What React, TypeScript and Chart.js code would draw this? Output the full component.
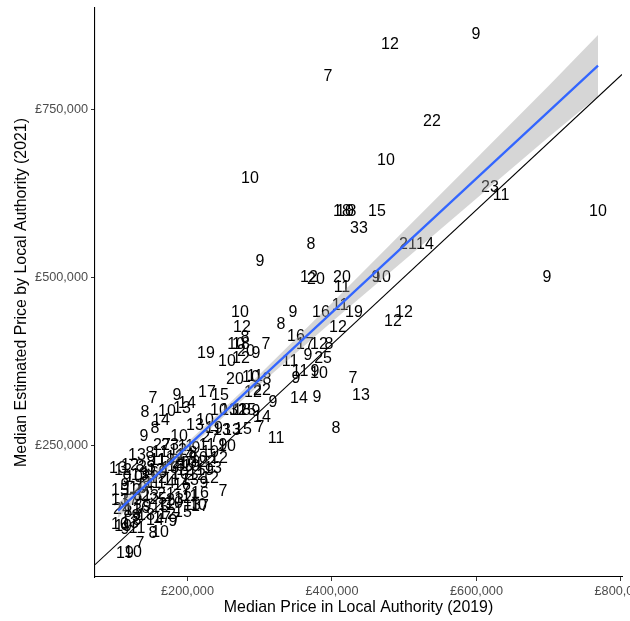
import React, { useEffect, useRef } from 'react';
import { Chart, registerables } from 'chart.js';

Chart.register(...registerables);

// Label shown at each local authority (text drawn at the point)
const labels: string[] = [
  '12','9','7','22','10','10','23','11','10','18','10','8','15','33','8','21','14','9','9','12',
  '20','20','9','10','11','10','9','16','11','19','12','12','12','8','12','16','7','17','12','8',
  '9','25','11','11','9','10','9','7','13','14','9','8','11','12','7','8','10','18','19','10',
  '12','20','9','20','10','11','8','12','22','9','9','7','17','15','8','10','13','14','10','13',
  '12','18','15','9','14','14','8','13','10','9','10','13','7','15','13','27','23','27','11','8',
  '9','10','19','13','13','12','8','23','8','11','20','10','9','10','13','8','14','11','10','12',
  '9','15','7','16','23','25','21','23','10','17','24','8','13','16','9','17','9','7','14','10',
  '19','13','8','8','10','7','19','10','9','11','9','12','10','14','11','12','9','13','18','12',
  '10','9','16','12','11','9','17','15','12','10','12','11','16','13','18','12','11','8','14','10',
  '22','10','9','11','12','19','13','12','13','15','12','18','9','13','12',
];

// Median price in local authority (2019), £
const price2019: number[] = [
  480300,599300,394500,538400,474700,286500,618700,633900,768200,413800,418000,427700,462300,437400,371000,505200,528700,300400,697600,368200,
  377900,413800,460900,469200,413800,272700,346000,384800,411100,430500,499700,484400,408300,329400,275400,350200,308700,362600,382000,395900,
  366800,387600,341900,355700,376500,382000,350200,429100,440100,354300,379200,405500,322500,243600,249200,279600,267200,274100,225600,254700,
  274100,281000,294800,265800,287900,293400,310000,290700,303100,318400,185500,152300,227000,245000,141200,171600,192400,199300,243600,257500,
  269900,275400,282400,294800,163300,303100,155000,210400,224200,139800,188300,247800,300400,276800,261600,164700,175800,231200,227000,207600,
  249200,254700,236700,130100,103800,120400,134300,144000,149500,159200,191000,200700,116300,126000,134300,142600,170300,177200,189600,213200,
  222900,106600,197900,217300,148100,159200,170300,182700,214600,217300,109400,117700,124600,135700,144000,164700,180000,184100,155000,106600,
  110800,120400,130100,152300,162000,134300,113500,124600,113500,130100,113500,123200,131500,141200,150900,159200,166100,175800,184100,196600,
  204900,211800,148100,156400,138400,131500,119100,162000,171600,181300,193800,203500,192400,203500,170300,182700,162000,148100,196600,215900,
  227000,231200,211800,197900,186900,224200,235300,231200,206200,193800,171600,142600,128700,106600,110800,
];

// Median estimated price by local authority (2021), £
const estimate2021: number[] = [
  846700,861600,799100,732100,674100,647300,633900,622000,598200,598200,598200,598200,598200,572900,549100,549100,549100,523800,500000,500000,
  497000,500000,500000,500000,485100,447900,447900,447900,458300,447900,447900,434500,425600,430100,425600,412200,400300,400300,400300,400300,
  383900,379500,375000,360100,360100,357200,349700,349700,324400,320000,321400,275300,260400,230700,181600,410700,400300,400300,386900,375000,
  379500,389900,386900,348200,351200,352700,348200,328900,331900,314000,324400,320000,328900,324400,299100,300600,305100,312500,302100,302100,
  302100,302100,302100,300600,287200,291700,275300,279800,287200,263400,263400,272300,276800,273800,272300,250000,250000,261900,250000,238100,
  250000,248500,275300,235100,215800,220300,218800,217300,224700,227700,223200,223200,200900,202400,205400,202400,193500,198000,206900,205400,
  193500,183000,183000,178600,174100,169700,177100,168200,160700,159200,154800,150300,153300,156300,159200,141400,136900,139900,138400,132500,
  129500,134000,138400,119100,120600,104200,89300,90800,125000,126500,190500,183000,186000,190500,193500,200900,209800,215800,218800,212800,
  218800,224700,208400,212800,175600,168200,168200,157800,160700,163700,171200,174100,190500,198000,227700,232200,239600,238100,235100,230700,
  224700,239600,245600,248500,242600,212800,215800,200900,160700,150300,147300,145900,144400,168200,212800,
];

// Fitted linear trend and its confidence band
const fitX: number[] = [104000, 150000, 200000, 250000, 300000, 400000, 500000, 600000, 700000, 768200];
const fitY: number[] = [152300, 198200, 248000, 297900, 347700, 447400, 547100, 646800, 746500, 814500];
const bandLower: number[] = [141300, 190700, 242000, 291900, 340200, 433400, 525100, 616800, 708500, 769000];
const bandUpper: number[] = [163300, 205700, 254000, 303900, 355200, 461400, 569100, 676800, 784500, 860000];

const xTicks: number[] = [200000, 400000, 600000, 800000];
const yTicks: number[] = [250000, 500000, 750000];

const X_MIN = 72000;
const X_MAX = 801400;
const Y_MIN = 53600;
const Y_MAX = 900300;

const FONT = '"Liberation Sans", Arial, Helvetica, sans-serif';

const fmtPounds = (v: number) =>
  '£' + Math.round(v).toString().replace(/\B(?=(\d{3})+(?!\d))/g, ',');

const textLabelPlugin = {
  id: 'textLabels',
  beforeDatasetsDraw(chart: any) {
    const { ctx, chartArea, scales } = chart;
    const xs = scales.x;
    const ys = scales.y;
    ctx.save();
    ctx.beginPath();
    ctx.rect(chartArea.left, chartArea.top, chartArea.right - chartArea.left, chartArea.bottom - chartArea.top);
    ctx.clip();
    ctx.font = `16px ${FONT}`;
    ctx.fillStyle = '#000000';
    ctx.textAlign = 'center';
    ctx.textBaseline = 'middle';
    labels.forEach((t, i) => {
      ctx.fillText(t, xs.getPixelForValue(price2019[i]), ys.getPixelForValue(estimate2021[i]) + 0.5);
    });
    ctx.restore();
  },
};

export default function App() {
  const canvasRef = useRef<HTMLCanvasElement | null>(null);

  useEffect(() => {
    const canvas = canvasRef.current;
    if (!canvas) return;
    const chart = new Chart(canvas, {
      type: 'scatter',
      data: {
        datasets: [
          {
            label: 'band lower',
            data: fitX.map((x, i) => ({ x, y: bandLower[i] })),
            showLine: true,
            borderWidth: 0,
            borderColor: 'rgba(0,0,0,0)',
            pointRadius: 0,
            fill: false,
            order: 3,
          },
          {
            label: 'band upper',
            data: fitX.map((x, i) => ({ x, y: bandUpper[i] })),
            showLine: true,
            borderWidth: 0,
            borderColor: 'rgba(0,0,0,0)',
            backgroundColor: 'rgba(153,153,153,0.4)',
            pointRadius: 0,
            fill: 0,
            order: 2,
          },
          {
            label: 'fit',
            data: fitX.map((x, i) => ({ x, y: fitY[i] })),
            showLine: true,
            borderColor: '#3366FF',
            borderWidth: 2.3,
            pointRadius: 0,
            fill: false,
            order: 1,
          },
          {
            label: 'y = x',
            data: [
              { x: X_MIN, y: X_MIN },
              { x: X_MAX, y: X_MAX },
            ],
            showLine: true,
            borderColor: '#000000',
            borderWidth: 1.1,
            pointRadius: 0,
            fill: false,
            order: 0,
          },
          {
            label: 'authorities',
            data: price2019.map((x, i) => ({ x, y: estimate2021[i] })),
            pointRadius: 0,
            pointHoverRadius: 0,
            showLine: false,
            order: 4,
          },
        ],
      },
      options: {
        animation: false,
        responsive: false,
        devicePixelRatio: 1,
        events: [],
        layout: { padding: { top: 8, right: 8, left: 0, bottom: 0 } },
        plugins: {
          legend: { display: false },
          tooltip: { enabled: false },
          title: { display: false },
        },
        scales: {
          x: {
            type: 'linear',
            min: X_MIN,
            max: X_MAX,
            afterBuildTicks: (scale: any) => {
              scale.ticks = xTicks.map((v) => ({ value: v }));
            },
            afterFit: (scale: any) => {
              scale.height = 44;
              scale.paddingLeft = 0;
              scale.paddingRight = 0;
            },
            grid: {
              display: true,
              drawOnChartArea: false,
              drawTicks: true,
              tickLength: 4,
              color: '#333333',
              lineWidth: 1,
            },
            border: { display: true, color: '#000000', width: 1.1 },
            ticks: {
              autoSkip: false,
              maxRotation: 0,
              minRotation: 0,
              padding: 3,
              color: '#4D4D4D',
              font: { family: FONT, size: 12.7 },
              callback: (v: any) => fmtPounds(Number(v)),
            },
            title: {
              display: true,
              text: 'Median Price in Local Authority (2019)',
              color: '#000000',
              font: { family: FONT, size: 15.9 },
              padding: { top: 0, bottom: 4 },
            },
          },
          y: {
            type: 'linear',
            min: Y_MIN,
            max: Y_MAX,
            afterBuildTicks: (scale: any) => {
              scale.ticks = yTicks.map((v) => ({ value: v }));
            },
            afterFit: (scale: any) => {
              scale.width = 95;
              scale.paddingTop = 0;
              scale.paddingBottom = 0;
            },
            grid: {
              display: true,
              drawOnChartArea: false,
              drawTicks: true,
              tickLength: 4,
              color: '#333333',
              lineWidth: 1,
            },
            border: { display: true, color: '#000000', width: 1.1 },
            ticks: {
              autoSkip: false,
              padding: 3,
              color: '#4D4D4D',
              font: { family: FONT, size: 12.7 },
              callback: (v: any) => fmtPounds(Number(v)),
            },
            title: {
              display: true,
              text: 'Median Estimated Price by Local Authority (2021)',
              color: '#000000',
              font: { family: FONT, size: 15.9 },
              padding: { top: 12, bottom: 0 },
            },
          },
        },
      },
      plugins: [textLabelPlugin],
    });
    return () => chart.destroy();
  }, []);

  return (
    <div style={{ position: 'fixed', left: 0, top: 0, width: 630, height: 621, background: '#ffffff' }}>
      <canvas ref={canvasRef} width={630} height={621} style={{ width: 630, height: 621, display: 'block' }} />
    </div>
  );
}
